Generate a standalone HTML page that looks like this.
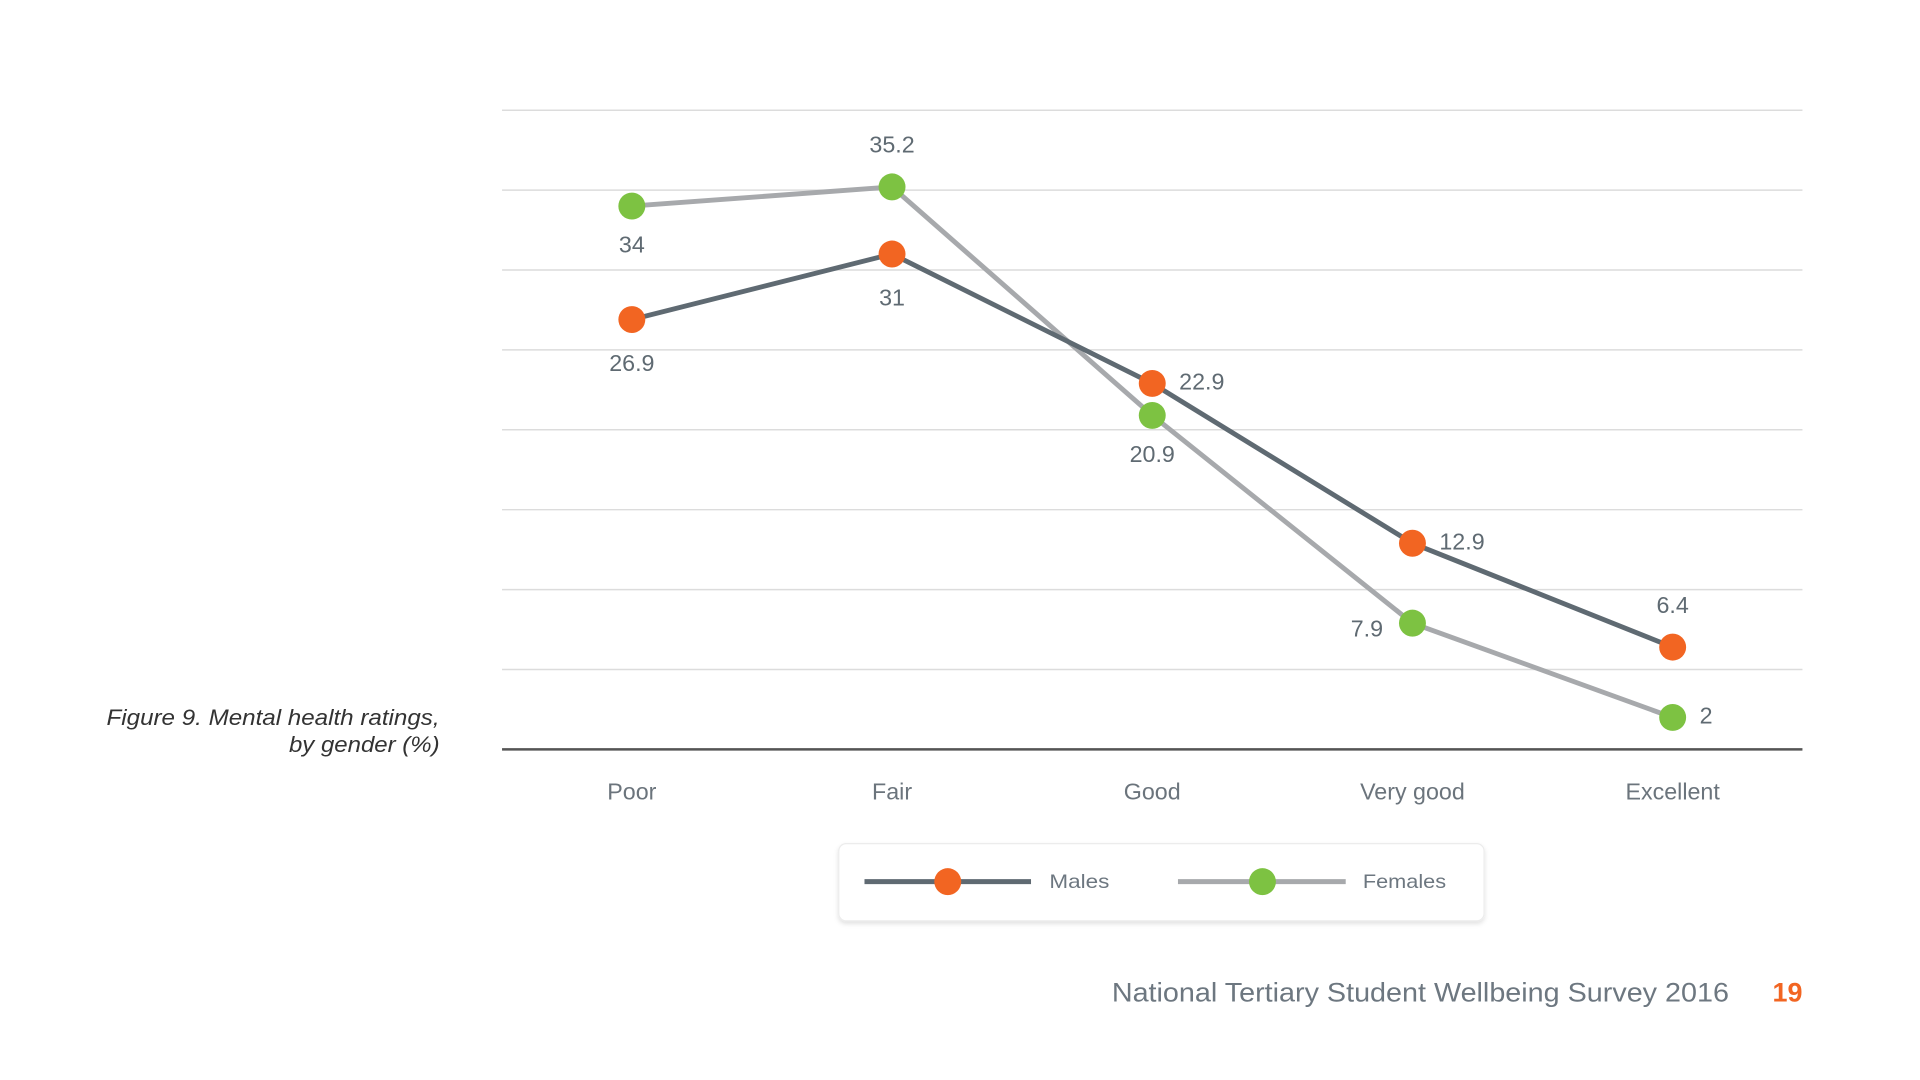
<!DOCTYPE html>
<html><head><meta charset="utf-8"><style>
html,body{margin:0;padding:0;background:#fff;}
svg{display:block;font-family:"Liberation Sans",sans-serif;}
</style></head><body>
<svg id="chart" width="1920" height="1080" viewBox="0 0 1568 882" xmlns="http://www.w3.org/2000/svg">
<defs><filter id="sh" x="-5%" y="-20%" width="110%" height="150%"><feDropShadow dx="0" dy="2" stdDeviation="2" flood-color="#000" flood-opacity="0.12"/></filter></defs>
<g id="grid"></g>
<g id="series"></g>
<g id="xlabels"></g>
<text x="87" y="592" textLength="272" lengthAdjust="spacingAndGlyphs" font-size="18" font-style="italic" fill="#333">Figure 9. Mental health ratings,</text>
<text x="236" y="614" textLength="123" lengthAdjust="spacingAndGlyphs" font-size="18" font-style="italic" fill="#333">by gender (%)</text>
<g>
<rect x="685" y="689" width="527" height="63" rx="6" fill="#fff" stroke="#ececec" stroke-width="1" filter="url(#sh)"/>
<g>
<line x1="706" y1="720" x2="842" y2="720" stroke="#5f6a72" stroke-width="4"/>
<circle cx="774" cy="720" r="11" fill="#f26522"/>
<text x="857" y="725" textLength="49" lengthAdjust="spacingAndGlyphs" font-size="16" fill="#6d7780">Males</text>
</g>
<g>
<line x1="962" y1="720" x2="1099" y2="720" stroke="#a7a9ac" stroke-width="4"/>
<circle cx="1031" cy="720" r="11" fill="#7dc242"/>
<text x="1113" y="725" textLength="68" lengthAdjust="spacingAndGlyphs" font-size="16" fill="#6d7780">Females</text>
</g>
</g>
<text x="908" y="818" textLength="504" lengthAdjust="spacingAndGlyphs" font-size="22" fill="#6d7780">National Tertiary Student Wellbeing Survey 2016</text>
<text x="1472" y="818" text-anchor="end" font-size="22" font-weight="bold" fill="#f26522">19</text>
</svg>
<script>
const categories=["Poor","Fair","Good","Very good","Excellent"];
const males=[26.9,31,22.9,12.9,6.4];
const females=[34,35.2,20.9,7.9,2];
const yTicks=[0,5,10,15,20,25,30,35,40];
const malePos=["below","below","right","right","above"];
const femalePos=["below","above","below","left","right"];
const NS="http://www.w3.org/2000/svg";
const X0=410,X1=1472,Y0=612,Y1=90,YMAX=40;
function xs(i){return 516+i*(1366-516)/(categories.length-1);}
function ys(v){return Y0-(v/YMAX)*(Y0-Y1);}
function mk(t,a,p){const e=document.createElementNS(NS,t);for(const k in a)e.setAttribute(k,a[k]);p.appendChild(e);return e;}
const grid=document.getElementById('grid');
yTicks.forEach(t=>{
  const l=mk('line',{x1:X0,x2:X1,y1:ys(t),y2:ys(t),stroke:t===0?'#555':'#dcdcdc','stroke-width':t===0?2:1.2},grid);
  
  
});
const xl=document.getElementById('xlabels');
categories.forEach((c,i)=>{
  const t=mk('text',{x:xs(i),y:653,'text-anchor':'middle','font-size':19,fill:'#6b747c'},xl);
  t.textContent=c;
  
  
});
const sg=document.getElementById('series');
function drawSeries(vals,lineCol,dotCol,pos,name,below){
  const pl=mk('polyline',{points:vals.map((v,i)=>xs(i)+','+ys(v)).join(' '),fill:'none',stroke:lineCol,'stroke-width':4},sg);
  
  
  vals.forEach((v,i)=>{
    const c=mk('circle',{cx:xs(i),cy:ys(v),r:11,fill:dotCol},sg);
    
    
    let x=xs(i),y=ys(v),a='middle';
    if(pos[i]==='below'){y+=below;}else if(pos[i]==='above'){y-=28;}
    else if(pos[i]==='right'){x+=22;y+=5;a='start';}
    else {x-=24;y+=11;a='end';}
    const t=mk('text',{x:x,y:y,'text-anchor':a,'font-size':19,fill:'#5f6a72'},sg);
    t.textContent=String(v);
    
    
  });
}
drawSeries(females,'#a7a9ac','#7dc242',femalePos,'females',38);
drawSeries(males,'#5f6a72','#f26522',malePos,'males',42);
</script>
</body></html>
